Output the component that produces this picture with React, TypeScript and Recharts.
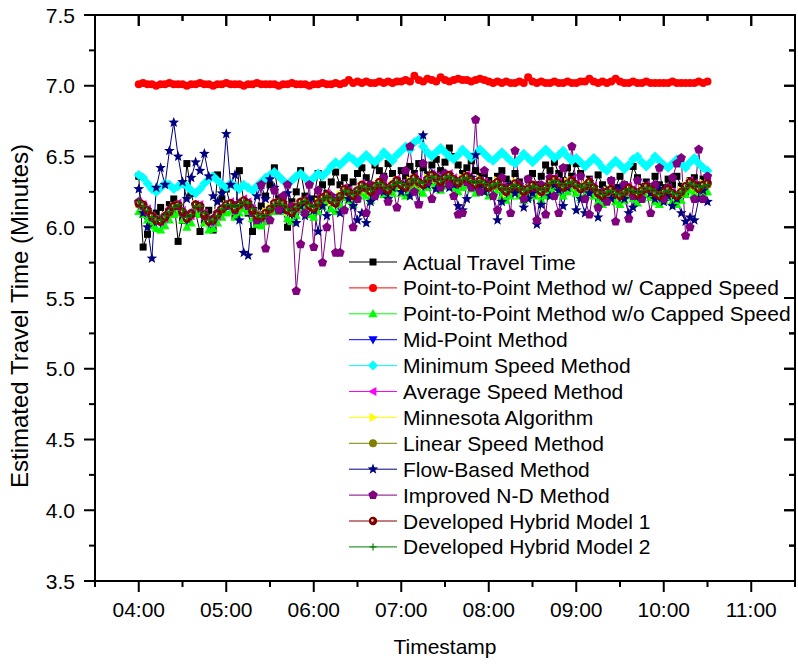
import React from 'react';
import { LineChart, Line, XAxis, YAxis, Legend, CartesianGrid } from 'recharts';

// time grid: first sample 04:00 (240 min), one sample every 3 minutes
const START_MIN = 240;
const STEP_MIN = 3;

const actualTravelTime = [
  6.36, 5.86, 5.95, 6.03, 6.10, 6.14, 6.08, 6.16, 6.20, 5.90,
  6.05, 6.45, 6.24, 6.10, 5.97, 6.05, 6.12, 5.98, 6.37, 6.20,
  6.27, 6.15, 6.08, 6.40, 6.18, 6.10, 5.97, 6.02, 6.15, 6.22,
  6.30, 6.42, 6.20, 6.12, 6.00, 6.18, 6.25, 6.40, 6.22, 6.15,
  6.20, 6.38, 6.30, 6.24, 6.32, 6.39, 6.30, 6.35, 6.28, 6.32,
  6.38, 6.42, 6.35, 6.30, 6.44, 6.40, 6.36, 6.45, 6.38, 6.33,
  6.40, 6.36, 6.43, 6.38, 6.45, 6.42, 6.37, 6.44, 6.48, 6.40,
  6.46, 6.56, 6.50, 6.44, 6.38, 6.42, 6.47, 6.40, 6.36, 6.38,
  6.33, 6.30, 6.36, 6.40, 6.34, 6.28, 6.38, 6.32, 6.27, 6.34,
  6.38, 6.30, 6.36, 6.44, 6.40, 6.46, 6.38, 6.33, 6.42, 6.36,
  6.45, 6.38, 6.30, 6.34, 6.27, 6.37, 6.30, 6.25, 6.33, 6.28,
  6.36, 6.30, 6.26, 6.43, 6.35, 6.28, 6.32, 6.27, 6.36, 6.30,
  6.28, 6.34, 6.30, 6.36, 6.29, 6.25, 6.33, 6.35, 6.30, 6.34,
  6.33,
];

const pointToPointCapped = [
  7.01, 7.02, 7.01, 7.01, 7.00, 7.01, 7.01, 7.02, 7.01, 7.01,
  7.01, 7.00, 7.01, 7.01, 7.02, 7.01, 7.01, 7.00, 7.01, 7.01,
  7.02, 7.01, 7.01, 7.01, 7.00, 7.01, 7.01, 7.02, 7.01, 7.01,
  7.01, 7.01, 7.00, 7.01, 7.01, 7.02, 7.01, 7.01, 7.01, 7.00,
  7.01, 7.01, 7.02, 7.01, 7.01, 7.02, 7.01, 7.02, 7.04, 7.02,
  7.03, 7.02, 7.03, 7.02, 7.02, 7.03, 7.02, 7.03, 7.02, 7.03,
  7.03, 7.04, 7.03, 7.07, 7.04, 7.03, 7.05, 7.04, 7.03, 7.06,
  7.04, 7.03, 7.04, 7.05, 7.04, 7.04, 7.03, 7.04, 7.05, 7.04,
  7.03, 7.02, 7.03, 7.02, 7.03, 7.02, 7.02, 7.03, 7.02, 7.06,
  7.03, 7.02, 7.03, 7.02, 7.02, 7.03, 7.02, 7.02, 7.03, 7.02,
  7.02, 7.03, 7.03, 7.05, 7.03, 7.02, 7.03, 7.02, 7.03, 7.05,
  7.03, 7.02, 7.02, 7.03, 7.02, 7.02, 7.03, 7.02, 7.02, 7.02,
  7.02, 7.02, 7.03, 7.02, 7.02, 7.02, 7.02, 7.02, 7.03, 7.02,
  7.03,
];

const pointToPointUncapped = [
  6.11, 6.09, 6.05, 6.01, 5.99, 5.98, 6.01, 6.05, 6.09, 6.10,
  6.05, 6.00, 6.03, 6.10, 6.09, 6.03, 5.98, 5.99, 6.03, 6.07,
  6.10, 6.11, 6.07, 6.10, 6.13, 6.11, 6.06, 6.02, 6.01, 6.04,
  6.07, 6.11, 6.12, 6.11, 6.06, 6.04, 6.08, 6.12, 6.13, 6.09,
  6.07, 6.11, 6.15, 6.17, 6.13, 6.11, 6.16, 6.21, 6.19, 6.16,
  6.20, 6.24, 6.22, 6.19, 6.23, 6.26, 6.23, 6.20, 6.24, 6.27,
  6.24, 6.22, 6.26, 6.29, 6.26, 6.24, 6.28, 6.31, 6.29, 6.26,
  6.29, 6.31, 6.28, 6.25, 6.28, 6.30, 6.27, 6.24, 6.27, 6.25,
  6.22, 6.24, 6.26, 6.22, 6.19, 6.22, 6.25, 6.22, 6.19, 6.21,
  6.24, 6.22, 6.19, 6.22, 6.26, 6.28, 6.25, 6.22, 6.25, 6.27,
  6.24, 6.21, 6.23, 6.26, 6.22, 6.18, 6.16, 6.19, 6.21, 6.18,
  6.16, 6.19, 6.22, 6.20, 6.17, 6.20, 6.23, 6.21, 6.18, 6.16,
  6.19, 6.21, 6.18, 6.16, 6.19, 6.23, 6.26, 6.24, 6.21, 6.24,
  6.25,
];

const midPointMethod = [
  6.16, 6.15, 6.11, 6.07, 6.04, 6.03, 6.06, 6.10, 6.14, 6.15,
  6.10, 6.05, 6.08, 6.15, 6.14, 6.08, 6.03, 6.04, 6.08, 6.12,
  6.15, 6.16, 6.12, 6.15, 6.18, 6.16, 6.11, 6.07, 6.06, 6.09,
  6.12, 6.16, 6.17, 6.16, 6.11, 6.09, 6.13, 6.17, 6.18, 6.14,
  6.12, 6.16, 6.20, 6.22, 6.18, 6.16, 6.21, 6.26, 6.24, 6.21,
  6.25, 6.29, 6.27, 6.24, 6.28, 6.31, 6.28, 6.25, 6.29, 6.32,
  6.29, 6.27, 6.31, 6.34, 6.31, 6.29, 6.33, 6.36, 6.34, 6.31,
  6.34, 6.36, 6.33, 6.30, 6.33, 6.35, 6.32, 6.29, 6.32, 6.30,
  6.27, 6.29, 6.31, 6.27, 6.24, 6.27, 6.30, 6.27, 6.24, 6.26,
  6.29, 6.27, 6.24, 6.27, 6.31, 6.33, 6.30, 6.27, 6.30, 6.32,
  6.29, 6.26, 6.28, 6.31, 6.27, 6.23, 6.21, 6.24, 6.26, 6.23,
  6.21, 6.24, 6.27, 6.25, 6.22, 6.25, 6.28, 6.26, 6.23, 6.21,
  6.24, 6.26, 6.23, 6.21, 6.24, 6.28, 6.31, 6.29, 6.26, 6.29,
  6.30,
];

const minimumSpeedMethod = [
  6.37, 6.35, 6.31, 6.27, 6.25, 6.28, 6.31, 6.30, 6.27, 6.29,
  6.31, 6.29, 6.26, 6.24, 6.27, 6.31, 6.34, 6.36, 6.33, 6.30,
  6.28, 6.31, 6.29, 6.27, 6.30, 6.28, 6.26, 6.29, 6.32, 6.35,
  6.37, 6.39, 6.36, 6.33, 6.30, 6.33, 6.36, 6.38, 6.35, 6.32,
  6.35, 6.38, 6.36, 6.39, 6.43, 6.46, 6.44, 6.47, 6.50, 6.48,
  6.45, 6.48, 6.51, 6.48, 6.46, 6.49, 6.53, 6.50, 6.47, 6.51,
  6.54, 6.57, 6.55, 6.60, 6.62, 6.57, 6.53, 6.50, 6.53, 6.56,
  6.53, 6.50, 6.48, 6.51, 6.55, 6.52, 6.49, 6.52, 6.55, 6.52,
  6.49, 6.47, 6.50, 6.53, 6.50, 6.47, 6.45, 6.48, 6.52, 6.49,
  6.46, 6.49, 6.52, 6.55, 6.52, 6.49, 6.51, 6.54, 6.50, 6.47,
  6.49, 6.46, 6.43, 6.46, 6.49, 6.46, 6.42, 6.40, 6.44, 6.47,
  6.44, 6.41, 6.44, 6.48, 6.50, 6.46, 6.43, 6.46, 6.50, 6.47,
  6.44, 6.42, 6.45, 6.48, 6.45, 6.42, 6.46, 6.49, 6.45, 6.42,
  6.40,
];

const averageSpeedMethod = [
  6.18, 6.16, 6.13, 6.08, 6.04, 6.04, 6.06, 6.11, 6.16, 6.17,
  6.12, 6.06, 6.08, 6.16, 6.16, 6.10, 6.04, 6.04, 6.08, 6.13,
  6.17, 6.18, 6.14, 6.16, 6.20, 6.18, 6.13, 6.08, 6.06, 6.10,
  6.13, 6.18, 6.19, 6.18, 6.13, 6.10, 6.13, 6.18, 6.20, 6.16,
  6.13, 6.17, 6.22, 6.24, 6.20, 6.17, 6.22, 6.28, 6.26, 6.22,
  6.26, 6.31, 6.29, 6.25, 6.29, 6.33, 6.30, 6.26, 6.30, 6.34,
  6.31, 6.28, 6.32, 6.36, 6.33, 6.30, 6.34, 6.38, 6.36, 6.32,
  6.35, 6.38, 6.35, 6.31, 6.34, 6.37, 6.34, 6.30, 6.33, 6.32,
  6.28, 6.30, 6.33, 6.29, 6.25, 6.28, 6.31, 6.29, 6.25, 6.27,
  6.30, 6.29, 6.25, 6.28, 6.32, 6.35, 6.32, 6.28, 6.31, 6.34,
  6.31, 6.27, 6.29, 6.33, 6.29, 6.24, 6.21, 6.25, 6.28, 6.25,
  6.22, 6.25, 6.29, 6.27, 6.23, 6.26, 6.30, 6.28, 6.24, 6.21,
  6.25, 6.28, 6.25, 6.22, 6.25, 6.30, 6.33, 6.31, 6.27, 6.30,
  6.32,
];

const minnesotaAlgorithm = [
  6.17, 6.15, 6.12, 6.09, 6.06, 6.05, 6.08, 6.12, 6.15, 6.15,
  6.10, 6.06, 6.10, 6.16, 6.14, 6.08, 6.04, 6.06, 6.10, 6.13,
  6.16, 6.16, 6.12, 6.16, 6.18, 6.16, 6.11, 6.08, 6.08, 6.11,
  6.14, 6.17, 6.17, 6.16, 6.11, 6.10, 6.15, 6.18, 6.18, 6.14,
  6.13, 6.18, 6.21, 6.22, 6.18, 6.17, 6.23, 6.27, 6.24, 6.21,
  6.26, 6.30, 6.27, 6.25, 6.30, 6.32, 6.28, 6.26, 6.31, 6.33,
  6.29, 6.28, 6.33, 6.35, 6.31, 6.30, 6.35, 6.37, 6.34, 6.32,
  6.36, 6.37, 6.33, 6.31, 6.35, 6.36, 6.32, 6.30, 6.34, 6.31,
  6.27, 6.30, 6.33, 6.28, 6.24, 6.28, 6.32, 6.28, 6.24, 6.27,
  6.31, 6.28, 6.24, 6.28, 6.33, 6.34, 6.30, 6.28, 6.32, 6.33,
  6.29, 6.27, 6.30, 6.32, 6.27, 6.24, 6.23, 6.26, 6.27, 6.23,
  6.22, 6.26, 6.28, 6.25, 6.23, 6.27, 6.29, 6.26, 6.24, 6.23,
  6.26, 6.27, 6.23, 6.22, 6.26, 6.29, 6.32, 6.29, 6.27, 6.31,
  6.31,
];

const linearSpeedMethod = [
  6.16, 6.15, 6.11, 6.08, 6.06, 6.05, 6.07, 6.10, 6.14, 6.15,
  6.11, 6.07, 6.10, 6.15, 6.14, 6.09, 6.05, 6.06, 6.09, 6.12,
  6.15, 6.16, 6.13, 6.15, 6.18, 6.16, 6.12, 6.09, 6.08, 6.10,
  6.12, 6.16, 6.17, 6.16, 6.12, 6.11, 6.14, 6.17, 6.18, 6.15,
  6.13, 6.16, 6.20, 6.22, 6.19, 6.17, 6.21, 6.26, 6.24, 6.22,
  6.25, 6.29, 6.27, 6.25, 6.28, 6.31, 6.28, 6.26, 6.29, 6.32,
  6.30, 6.28, 6.31, 6.34, 6.31, 6.30, 6.33, 6.36, 6.34, 6.32,
  6.34, 6.36, 6.33, 6.31, 6.33, 6.35, 6.32, 6.30, 6.32, 6.30,
  6.28, 6.29, 6.31, 6.28, 6.25, 6.27, 6.30, 6.27, 6.25, 6.26,
  6.29, 6.27, 6.25, 6.27, 6.31, 6.33, 6.30, 6.28, 6.30, 6.32,
  6.29, 6.27, 6.28, 6.31, 6.27, 6.24, 6.22, 6.24, 6.26, 6.24,
  6.22, 6.24, 6.27, 6.25, 6.23, 6.25, 6.28, 6.26, 6.24, 6.22,
  6.24, 6.26, 6.24, 6.22, 6.24, 6.28, 6.31, 6.29, 6.27, 6.29,
  6.30,
];

const flowBasedMethod = [
  6.27, 6.10, 6.00, 5.78, 6.28, 6.42, 6.30, 6.54, 6.74, 6.50,
  6.32, 6.20, 6.35, 6.46, 6.40, 6.52, 6.36, 6.22, 6.18, 6.24,
  6.66, 6.30, 6.37, 6.05, 5.82, 5.80, 6.13, 6.22, 6.30, 6.20,
  6.34, 6.28, 6.18, 6.12, 6.24, 6.10, 6.03, 6.15, 6.08, 6.20,
  6.12, 5.97, 6.15, 6.08, 6.22, 6.18, 6.10, 6.25, 6.20, 6.15,
  6.05, 6.10, 6.03, 6.18, 6.22, 6.30, 6.25, 6.20, 6.28, 6.32,
  6.25, 6.30, 6.22, 6.35, 6.17, 6.65, 6.30, 6.38, 6.27, 6.33,
  6.36, 6.28, 6.30, 6.15, 6.12, 6.20, 6.35, 6.51, 6.28, 6.25,
  6.30, 6.22, 6.05, 6.18, 6.26, 6.30, 6.24, 6.28, 6.14, 6.20,
  6.24, 6.02, 6.16, 6.28, 6.22, 6.30, 6.26, 6.15, 6.28, 6.32,
  6.12, 6.20, 6.10, 6.24, 6.28, 6.07, 6.22, 6.26, 6.20, 6.25,
  6.28, 6.20, 6.10, 6.14, 6.22, 6.26, 6.30, 6.24, 6.20, 6.27,
  6.18, 6.22, 6.15, 6.20, 6.10, 6.04, 6.07, 6.05, 6.20, 6.26,
  6.18,
];

const improvedNDMethod = [
  6.18, 6.15, 6.11, 6.07, 6.05, 6.05, 6.08, 6.12, 6.15, 6.15,
  6.10, 6.07, 6.10, 6.16, 6.14, 6.08, 6.05, 6.06, 6.10, 6.13,
  6.15, 6.16, 6.12, 6.17, 6.18, 6.15, 6.10, 6.05, 6.30, 5.85,
  6.05, 6.26, 6.12, 6.22, 6.30, 6.15, 5.55, 5.88, 6.10, 6.30,
  5.86, 6.26, 5.75, 6.00, 6.22, 5.82, 5.82, 6.12, 6.25, 6.00,
  6.20, 6.28, 6.10, 6.30, 6.22, 6.26, 6.35, 6.18, 6.30, 6.14,
  6.30, 6.40, 6.57, 6.25, 6.16, 6.45, 6.32, 6.20, 6.35, 6.28,
  6.38, 6.30, 6.22, 6.09, 6.10, 6.32, 6.28, 6.76, 6.25, 6.40,
  6.30, 6.22, 6.12, 6.35, 6.28, 6.10, 6.54, 6.30, 6.20, 6.34,
  6.28, 6.05, 6.30, 6.09, 6.35, 6.22, 6.10, 6.42, 6.30, 6.57,
  6.30, 6.36, 6.20, 6.09, 6.28, 6.14, 6.25, 6.18, 6.33, 6.04,
  6.24, 6.30, 6.06, 6.22, 6.33, 6.20, 6.27, 6.10, 6.30, 6.42,
  6.20, 6.28, 6.35, 6.45, 6.49, 5.94, 6.00, 6.20, 6.55, 6.20,
  6.36,
];

const hybridModel1 = [
  6.17, 6.16, 6.12, 6.08, 6.05, 6.04, 6.07, 6.11, 6.15, 6.16,
  6.11, 6.06, 6.09, 6.16, 6.15, 6.09, 6.04, 6.05, 6.09, 6.13,
  6.16, 6.17, 6.13, 6.16, 6.19, 6.17, 6.12, 6.08, 6.07, 6.10,
  6.13, 6.17, 6.18, 6.17, 6.12, 6.10, 6.14, 6.18, 6.19, 6.15,
  6.13, 6.17, 6.21, 6.23, 6.19, 6.17, 6.22, 6.27, 6.25, 6.22,
  6.26, 6.30, 6.28, 6.25, 6.29, 6.32, 6.29, 6.26, 6.30, 6.33,
  6.30, 6.28, 6.32, 6.35, 6.32, 6.30, 6.34, 6.37, 6.35, 6.32,
  6.35, 6.37, 6.34, 6.31, 6.34, 6.36, 6.33, 6.30, 6.33, 6.31,
  6.28, 6.30, 6.32, 6.28, 6.25, 6.28, 6.31, 6.28, 6.25, 6.27,
  6.30, 6.28, 6.25, 6.28, 6.32, 6.34, 6.31, 6.28, 6.31, 6.33,
  6.30, 6.27, 6.29, 6.32, 6.28, 6.24, 6.22, 6.25, 6.27, 6.24,
  6.22, 6.25, 6.28, 6.26, 6.23, 6.26, 6.29, 6.27, 6.24, 6.22,
  6.25, 6.27, 6.24, 6.22, 6.25, 6.29, 6.32, 6.30, 6.27, 6.30,
  6.31,
];

const hybridModel2 = [
  6.18, 6.15, 6.12, 6.07, 6.05, 6.05, 6.08, 6.11, 6.14, 6.16,
  6.12, 6.07, 6.09, 6.15, 6.15, 6.10, 6.05, 6.05, 6.08, 6.13,
  6.16, 6.16, 6.14, 6.16, 6.18, 6.17, 6.13, 6.09, 6.07, 6.09,
  6.13, 6.16, 6.18, 6.16, 6.13, 6.11, 6.14, 6.17, 6.19, 6.16,
  6.14, 6.17, 6.20, 6.22, 6.20, 6.18, 6.22, 6.26, 6.25, 6.23,
  6.26, 6.29, 6.28, 6.26, 6.29, 6.31, 6.29, 6.27, 6.30, 6.32,
  6.31, 6.29, 6.32, 6.34, 6.32, 6.31, 6.34, 6.36, 6.35, 6.33,
  6.35, 6.36, 6.34, 6.32, 6.34, 6.35, 6.33, 6.31, 6.33, 6.31,
  6.29, 6.30, 6.31, 6.28, 6.26, 6.28, 6.30, 6.28, 6.26, 6.27,
  6.29, 6.28, 6.26, 6.28, 6.31, 6.33, 6.31, 6.29, 6.31, 6.32,
  6.30, 6.28, 6.29, 6.31, 6.28, 6.25, 6.23, 6.25, 6.26, 6.24,
  6.23, 6.25, 6.27, 6.26, 6.24, 6.26, 6.28, 6.27, 6.25, 6.23,
  6.25, 6.26, 6.24, 6.23, 6.25, 6.28, 6.31, 6.30, 6.28, 6.29,
  6.30,
];

// axis ticks (minutes after midnight / minutes)
const xTickMinutes = [210, 240, 270, 300, 330, 360, 390, 420, 450, 480, 510, 540, 570, 600, 630, 660, 690];
const yTickValues = [3.5, 3.75, 4, 4.25, 4.5, 4.75, 5, 5.25, 5.5, 5.75, 6, 6.25, 6.5, 6.75, 7, 7.25, 7.5];
const X_DOMAIN: [number, number] = [210, 690];
const Y_DOMAIN: [number, number] = [3.5, 7.5];

type Shape =
  | 'square' | 'circle' | 'triUp' | 'triDown' | 'diamond' | 'triLeft'
  | 'triRight' | 'star' | 'pentagon' | 'sphere' | 'plus';

const seriesDefs: { key: string; name: string; color: string; shape: Shape; values: number[] }[] = [
  { key: 'actual', name: 'Actual Travel Time', color: '#000000', shape: 'square', values: actualTravelTime },
  { key: 'p2pCapped', name: 'Point-to-Point Method w/ Capped Speed', color: '#FF0000', shape: 'circle', values: pointToPointCapped },
  { key: 'p2pUncapped', name: 'Point-to-Point Method w/o Capped Speed', color: '#00FF00', shape: 'triUp', values: pointToPointUncapped },
  { key: 'midPoint', name: 'Mid-Point Method', color: '#0000FF', shape: 'triDown', values: midPointMethod },
  { key: 'minSpeed', name: 'Minimum Speed Method', color: '#00FFFF', shape: 'diamond', values: minimumSpeedMethod },
  { key: 'avgSpeed', name: 'Average Speed Method', color: '#FF00FF', shape: 'triLeft', values: averageSpeedMethod },
  { key: 'minnesota', name: 'Minnesota Algorithm', color: '#FFFF00', shape: 'triRight', values: minnesotaAlgorithm },
  { key: 'linear', name: 'Linear Speed Method', color: '#808000', shape: 'circle', values: linearSpeedMethod },
  { key: 'flow', name: 'Flow-Based Method', color: '#000080', shape: 'star', values: flowBasedMethod },
  { key: 'improvedND', name: 'Improved N-D Method', color: '#800080', shape: 'pentagon', values: improvedNDMethod },
  { key: 'hybrid1', name: 'Developed Hybrid Model 1', color: '#800000', shape: 'sphere', values: hybridModel1 },
  { key: 'hybrid2', name: 'Developed Hybrid Model 2', color: '#008000', shape: 'plus', values: hybridModel2 },
];

const data = actualTravelTime.map((_, i) => {
  const row: Record<string, number> = { t: START_MIN + i * STEP_MIN };
  seriesDefs.forEach((s) => {
    row[s.key] = s.values[i];
  });
  return row;
});

const FONT = '"Liberation Sans", Arial, Helvetica, sans-serif';

// layout of the chart box
const CHART_W = 798;
const CHART_H = 664;
const MARGIN = { top: 15, right: 3, bottom: 0, left: 0 };
const Y_AXIS_W = 95;
const X_AXIS_H = 83;
const PLOT_LEFT = MARGIN.left + Y_AXIS_W;
const PLOT_TOP = MARGIN.top;
const PLOT_W = CHART_W - MARGIN.left - MARGIN.right - Y_AXIS_W;
const PLOT_H = CHART_H - MARGIN.top - MARGIN.bottom - X_AXIS_H;

function polyPoints(cx: number, cy: number, radii: number[], n: number): string {
  const pts: string[] = [];
  for (let k = 0; k < n; k++) {
    const a = -Math.PI / 2 + (k * 2 * Math.PI) / n;
    const r = radii[k % radii.length];
    pts.push(`${cx + r * Math.cos(a)},${cy + r * Math.sin(a)}`);
  }
  return pts.join(' ');
}

function Marker({ shape, color, cx, cy }: { shape: Shape; color: string; cx: number; cy: number }) {
  switch (shape) {
    case 'square':
      return <rect x={cx - 3.5} y={cy - 3.5} width={7} height={7} fill={color} />;
    case 'circle':
      return <circle cx={cx} cy={cy} r={4} fill={color} />;
    case 'triUp':
      return <polygon points={`${cx},${cy - 4.8} ${cx + 4.6},${cy + 3.4} ${cx - 4.6},${cy + 3.4}`} fill={color} />;
    case 'triDown':
      return <polygon points={`${cx},${cy + 4.8} ${cx + 4.6},${cy - 3.4} ${cx - 4.6},${cy - 3.4}`} fill={color} />;
    case 'triLeft':
      return <polygon points={`${cx - 4.8},${cy} ${cx + 3.4},${cy - 4.6} ${cx + 3.4},${cy + 4.6}`} fill={color} />;
    case 'triRight':
      return <polygon points={`${cx + 4.8},${cy} ${cx - 3.4},${cy - 4.6} ${cx - 3.4},${cy + 4.6}`} fill={color} />;
    case 'diamond':
      return <polygon points={`${cx},${cy - 5} ${cx + 5},${cy} ${cx},${cy + 5} ${cx - 5},${cy}`} fill={color} />;
    case 'star':
      return <polygon points={polyPoints(cx, cy, [5.6, 2.4], 10)} fill={color} />;
    case 'pentagon':
      return <polygon points={polyPoints(cx, cy, [4.9], 5)} fill={color} />;
    case 'sphere':
      return (
        <g>
          <circle cx={cx} cy={cy} r={4.2} fill={color} />
          <circle cx={cx - 0.6} cy={cy - 0.6} r={1.3} fill="#f0c0b8" />
        </g>
      );
    case 'plus':
      return (
        <path
          d={`M${cx - 3.5},${cy}H${cx + 3.5}M${cx},${cy - 3.5}V${cy + 3.5}`}
          stroke={color}
          strokeWidth={1.2}
          fill="none"
        />
      );
    default:
      return null;
  }
}

const makeDot = (shape: Shape, color: string) => (props: any) => {
  const { cx, cy, index } = props;
  if (cx == null || cy == null) return <g key={`d-${index}`} />;
  return (
    <g key={`d-${index}`}>
      <Marker shape={shape} color={color} cx={cx} cy={cy} />
    </g>
  );
};

const isMajorY = (v: number) => Math.abs(v * 2 - Math.round(v * 2)) < 1e-6;
const isMajorX = (v: number) => v % 60 === 0;
const fmtTime = (m: number) =>
  `${String(Math.floor(m / 60)).padStart(2, '0')}:${String(m % 60).padStart(2, '0')}`;

const MAJOR = 11;
const MINOR = 6;
const AXIS_W = 2;

// left axis tick (outward) + its mirror on the right frame edge (inward)
const LeftTick = (props: any) => {
  const { payload } = props;
  const x = Number(props.x);
  const y = Number(props.y);
  const v = payload.value as number;
  const major = isMajorY(v);
  const len = major ? MAJOR : MINOR;
  const xr = x + PLOT_W;
  return (
    <g>
      <line x1={x - len} x2={x} y1={y} y2={y} stroke="#000" strokeWidth={AXIS_W} />
      <line x1={xr - len} x2={xr} y1={y} y2={y} stroke="#000" strokeWidth={AXIS_W} />
      {major && (
        <text x={x - 20} y={y + 7.5} textAnchor="end" fontSize={21} fontFamily={FONT} fill="#000">
          {v.toFixed(1)}
        </text>
      )}
    </g>
  );
};

// bottom axis tick (outward) + its mirror on the top frame edge (inward)
const BottomTick = (props: any) => {
  const { payload } = props;
  const x = Number(props.x);
  const y = Number(props.y);
  const v = payload.value as number;
  const major = isMajorX(v);
  const len = major ? MAJOR : MINOR;
  const yt = y - PLOT_H;
  return (
    <g>
      <line x1={x} x2={x} y1={y} y2={y + len} stroke="#000" strokeWidth={AXIS_W} />
      <line x1={x} x2={x} y1={yt} y2={yt + len} stroke="#000" strokeWidth={AXIS_W} />
      {major && (
        <text x={x} y={y + 36} textAnchor="middle" fontSize={21} fontFamily={FONT} fill="#000">
          {fmtTime(v)}
        </text>
      )}
    </g>
  );
};

// grid generators that place a single line on the top edge / right edge of the plot box
const topEdgeGenerator = (props: any) => [props.offset.top];
const rightEdgeGenerator = (props: any) => [props.offset.left + props.offset.width];

// same domains mapped onto the plot box, used for the mirrored frame ticks
const xPx = (t: number) => PLOT_LEFT + ((t - X_DOMAIN[0]) / (X_DOMAIN[1] - X_DOMAIN[0])) * PLOT_W;
const yPx = (v: number) => PLOT_TOP + ((Y_DOMAIN[1] - v) / (Y_DOMAIN[1] - Y_DOMAIN[0])) * PLOT_H;

const FrameOverlay = () => {
  const right = PLOT_LEFT + PLOT_W;
  return (
    <>
      <div
        style={{
          position: 'absolute',
          left: PLOT_LEFT - 1,
          top: PLOT_TOP - 1,
          width: PLOT_W + 2,
          height: PLOT_H + 2,
          boxSizing: 'border-box',
          borderTop: '2px solid #000',
          borderRight: '2px solid #000',
          pointerEvents: 'none',
          zIndex: 6,
        }}
      />
      <svg
        width={CHART_W}
        height={CHART_H}
        style={{ position: 'absolute', left: 0, top: 0, pointerEvents: 'none', zIndex: 7 }}
      >
        {xTickMinutes.map((t) => (
          <line
            key={`tt-${t}`}
            x1={xPx(t)}
            x2={xPx(t)}
            y1={PLOT_TOP}
            y2={PLOT_TOP + (isMajorX(t) ? MAJOR : MINOR)}
            stroke="#000"
            strokeWidth={AXIS_W}
          />
        ))}
        {yTickValues.map((v) => (
          <line
            key={`rt-${v}`}
            x1={right - (isMajorY(v) ? MAJOR : MINOR)}
            x2={right}
            y1={yPx(v)}
            y2={yPx(v)}
            stroke="#000"
            strokeWidth={AXIS_W}
          />
        ))}
      </svg>
    </>
  );
};

const XTitle = (props: any) => {
  const vb = props.viewBox || {};
  return (
    <text x={vb.x + vb.width / 2} y={vb.y + 73} textAnchor="middle" fontSize={21} fontFamily={FONT} fill="#000">
      Timestamp
    </text>
  );
};

const YTitle = (props: any) => {
  const vb = props.viewBox || {};
  const cx = vb.x + 20;
  const cy = vb.y + vb.height / 2 + 18;
  return (
    <text
      x={cx}
      y={cy}
      dy={8.3}
      transform={`rotate(-90 ${cx} ${cy})`}
      textAnchor="middle"
      fontSize={24}
      fontFamily={FONT}
      fill="#000"
    >
      Estimated Travel Time (Minutes)
    </text>
  );
};

// legend rows follow the series order (not alphabetical)
const LegendContent = () => (
  <svg width={450} height={320} style={{ display: 'block', overflow: 'visible' }}>
    {seriesDefs.map((s, i) => {
      const cy = 13 + i * 25.9;
      return (
        <g key={s.key}>
          <line x1={0} x2={48} y1={cy} y2={cy} stroke={s.color} strokeWidth={1} />
          <Marker shape={s.shape} color={s.color} cx={24} cy={cy} />
          <text x={54} y={cy + 7.5} fontSize={21} fontFamily={FONT} fill="#000">
            {s.name}
          </text>
        </g>
      );
    })}
  </svg>
);

export default function App() {
  return (
    <div style={{ position: 'relative', width: CHART_W, height: CHART_H }}>
      <style>{'html,body{margin:0;padding:0;overflow:hidden;}'}</style>
      <LineChart width={CHART_W} height={CHART_H} data={data} margin={MARGIN}>
        <CartesianGrid
          stroke="#000"
          strokeWidth={AXIS_W}
          fill="none"
          horizontalCoordinatesGenerator={topEdgeGenerator}
          verticalCoordinatesGenerator={rightEdgeGenerator}
        />
        <XAxis
          dataKey="t"
          type="number"
          domain={X_DOMAIN}
          allowDataOverflow
          ticks={xTickMinutes}
          interval={0}
          height={X_AXIS_H}
          tickSize={0}
          tickMargin={0}
          tickLine={false}
          tick={BottomTick}
          axisLine={{ stroke: '#000', strokeWidth: AXIS_W }}
          label={XTitle}
        />
        <YAxis
          type="number"
          domain={Y_DOMAIN}
          allowDataOverflow
          ticks={yTickValues}
          interval={0}
          width={Y_AXIS_W}
          tickSize={0}
          tickMargin={0}
          tickLine={false}
          tick={LeftTick}
          axisLine={{ stroke: '#000', strokeWidth: AXIS_W }}
          label={YTitle}
        />
        {seriesDefs.map((s) => (
          <Line
            key={s.key}
            type="linear"
            dataKey={s.key}
            name={s.name}
            stroke={s.color}
            strokeWidth={1}
            dot={makeDot(s.shape, s.color)}
            activeDot={false}
            isAnimationActive={false}
          />
        ))}
        <Legend
          layout="vertical"
          align="center"
          verticalAlign="middle"
          content={LegendContent}
          wrapperStyle={{ position: 'absolute', left: 349, top: 249, width: 449, height: 320, lineHeight: 0 }}
        />
      </LineChart>
      <FrameOverlay />
    </div>
  );
}
